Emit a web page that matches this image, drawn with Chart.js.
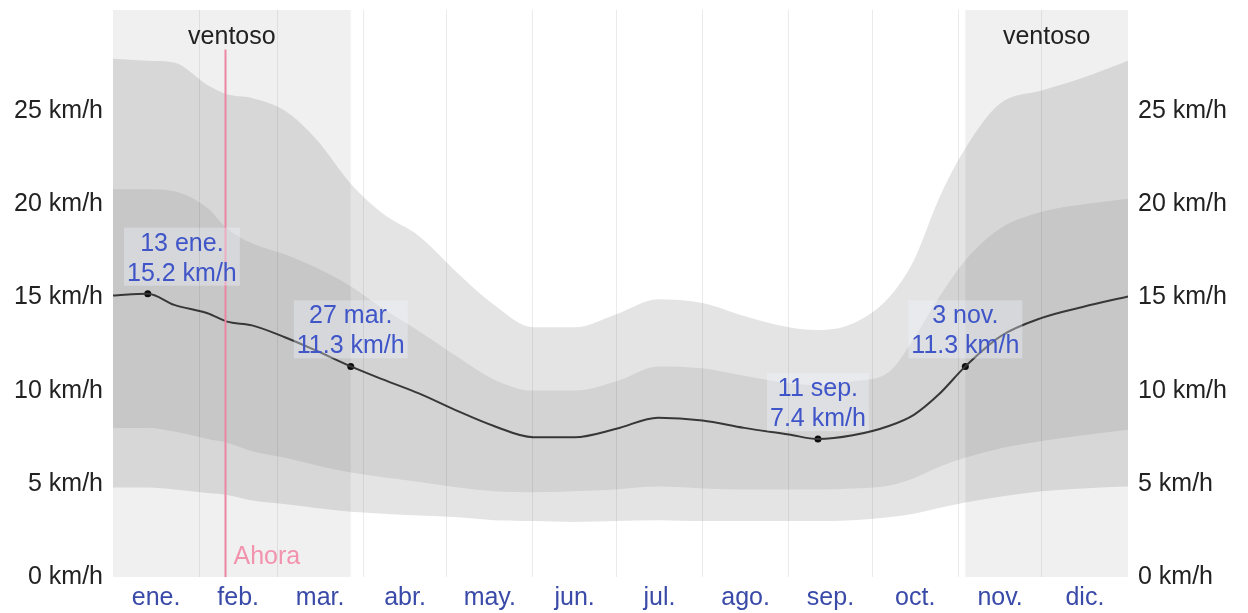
<!DOCTYPE html>
<html>
<head>
<meta charset="utf-8">
<script src="https://cdn.jsdelivr.net/npm/chart.js@4/dist/chart.umd.min.js"></script>
<style>
  html, body { margin: 0; padding: 0; background: #fff; }
  canvas { display: block; }
</style>
</head>
<body>
<canvas id="windChart" width="1248" height="613"></canvas>
<script>
// day of year (0 = 1 ene., 365 = 31 dic.)
const days = [0, 12.5, 22, 34, 41, 50, 62, 73, 85.5, 97, 110, 124, 137, 151, 166, 181, 196, 212, 227, 243, 253.5, 266, 279, 288, 297, 306.5, 319, 334, 349, 365];

// average wind speed, km/h
const meanSpeed = [15.1, 15.2, 14.6, 14.15, 13.7, 13.5, 12.85, 12.15, 11.3, 10.6, 9.85, 8.9, 8.1, 7.5, 7.5, 7.95, 8.55, 8.4, 8.0, 7.65, 7.4, 7.6, 8.1, 8.7, 9.8, 11.3, 12.9, 13.9, 14.5, 15.05];
// percentile bands
const p90 = [27.8, 27.7, 27.6, 26.4, 25.9, 25.7, 25.0, 23.5, 21.1, 19.5, 18.3, 16.3, 14.6, 13.4, 13.4, 14.1, 14.9, 14.7, 14.0, 13.4, 13.25, 13.6, 15.0, 17.0, 20.3, 23.0, 25.4, 26.1, 26.8, 27.7];
const p75 = [20.8, 20.8, 20.7, 19.8, 18.7, 17.9, 17.3, 16.6, 15.6, 14.4, 13.2, 11.8, 10.6, 10.0, 10.0, 10.5, 11.3, 11.2, 10.8, 10.4, 10.3, 10.5, 11.0, 12.8, 15.0, 17.0, 18.7, 19.6, 20.0, 20.3];
const p25 = [8.0, 8.0, 7.8, 7.4, 7.2, 6.75, 6.4, 6.0, 5.6, 5.35, 5.1, 4.8, 4.6, 4.55, 4.6, 4.7, 4.85, 4.75, 4.7, 4.7, 4.7, 4.75, 4.9, 5.3, 5.9, 6.4, 6.9, 7.3, 7.6, 7.9];
const p10 = [4.8, 4.8, 4.7, 4.5, 4.4, 4.1, 3.9, 3.7, 3.5, 3.4, 3.3, 3.2, 3.05, 3.0, 2.95, 3.0, 3.05, 3.0, 3.0, 3.0, 3.0, 3.05, 3.2, 3.4, 3.7, 4.0, 4.3, 4.6, 4.75, 4.85];

// highlighted days
const hiDays = [12.5, 85.5, 253.5, 306.5];
const hiValues = [15.2, 11.3, 7.4, 11.3];
const hiDates = ['13 ene.', '27 mar.', '11 sep.', '3 nov.'];

// windy season ranges (days)
const windyRanges = [[0, 85.5], [306.5, 365]];
const windyLabel = 'ventoso';
const nowDay = 40.3;
const nowLabel = 'Ahora';

const monthNames = ['ene.', 'feb.', 'mar.', 'abr.', 'may.', 'jun.', 'jul.', 'ago.', 'sep.', 'oct.', 'nov.', 'dic.'];
const monthStarts = [0, 31, 59, 90, 120, 151, 181, 212, 243, 273, 304, 334, 365];
const yTicks = [0, 5, 10, 15, 20, 25];
const yMax = 30.42;

const FONT = '"Liberation Sans", Arial, sans-serif';
const monthMids = monthNames.map((m, i) => (monthStarts[i] + monthStarts[i + 1]) / 2);

const pts = arr => days.map((d, i) => ({ x: d, y: arr[i] }));

const bgPlugin = {
    id: 'windyBg',
    beforeDatasetsDraw(chart) {
        const { ctx, chartArea: a, scales } = chart;
        ctx.save();
        ctx.fillStyle = 'rgba(0,0,0,0.06)';
        windyRanges.forEach(r => {
            const x0 = scales.x.getPixelForValue(r[0]);
            const x1 = scales.x.getPixelForValue(r[1]);
            ctx.fillRect(x0, a.top, x1 - x0, a.bottom - a.top);
        });
        ctx.restore();
    },
    afterDatasetsDraw(chart) {
        const { ctx, chartArea: a, scales } = chart;
        const x = scales.x, y = scales.y;
        ctx.save();
        // windy labels
        ctx.font = '25px ' + FONT;
        ctx.fillStyle = '#222';
        ctx.textAlign = 'center';
        ctx.textBaseline = 'alphabetic';
        windyRanges.forEach(r => {
            const cx = (x.getPixelForValue(r[0]) + x.getPixelForValue(r[1])) / 2;
            ctx.fillText(windyLabel, cx, a.top + 34);
        });
        // now line
        const nx = Math.round(x.getPixelForValue(nowDay)) + 0.5;
        ctx.strokeStyle = '#ec86a2';
        ctx.lineWidth = 2;
        ctx.beginPath();
        ctx.moveTo(nx, y.getPixelForValue(28.3));
        ctx.lineTo(nx, a.bottom);
        ctx.stroke();
        ctx.fillStyle = '#f293ae';
        ctx.textAlign = 'left';
        ctx.fillText(nowLabel, nx + 8, a.bottom - 13);
        // highlight labels
        hiDays.forEach((d, i) => {
            const px = x.getPixelForValue(d);
            const py = y.getPixelForValue(hiValues[i]);
            const l1 = hiDates[i];
            const l2 = hiValues[i].toFixed(1) + ' km/h';
            const w = Math.max(ctx.measureText(l1).width, ctx.measureText(l2).width);
            const cx = Math.min(Math.max(px, a.left + 14 + w / 2), a.right - 14 - w / 2);
            ctx.fillStyle = 'rgba(238,243,255,0.35)';
            ctx.fillRect(cx - w / 2 - 3, py - 66, w + 6, 58);
            ctx.fillStyle = '#3f55c8';
            ctx.textAlign = 'center';
            ctx.fillText(l1, cx, py - 43);
            ctx.fillText(l2, cx, py - 13);
        });
        ctx.restore();
    }
};

const yTickCfg = {
    font: { size: 25, family: FONT },
    color: '#222',
    padding: 10,
    callback: v => v + ' km/h'
};

const yFit = w => s => { s.width = w; s.paddingTop = 0; s.paddingBottom = 0; };

new Chart(document.getElementById('windChart'), {
    type: 'line',
    data: {
        datasets: [
            { data: pts(p10), borderWidth: 0, pointRadius: 0, fill: false },
            { data: pts(p90), borderWidth: 0, pointRadius: 0, fill: 0, backgroundColor: 'rgba(0,0,0,0.105)' },
            { data: pts(p25), borderWidth: 0, pointRadius: 0, fill: false },
            { data: pts(p75), borderWidth: 0, pointRadius: 0, fill: 2, backgroundColor: 'rgba(0,0,0,0.08)' },
            { data: pts(meanSpeed), borderColor: '#444', borderWidth: 2, pointRadius: 0, fill: false },
            {
                type: 'scatter',
                data: hiDays.map((d, i) => ({ x: d, y: hiValues[i] })),
                pointRadius: 3.5, pointBackgroundColor: '#111', pointBorderWidth: 0
            }
        ]
    },
    options: {
        responsive: false,
        animation: false,
        devicePixelRatio: 1,
        layout: { padding: { top: 10 } },
        elements: { line: { tension: 0.4, cubicInterpolationMode: 'monotone' } },
        plugins: { legend: { display: false }, tooltip: { enabled: false } },
        scales: {
            x: {
                type: 'linear', min: 0, max: 365,
                afterBuildTicks: s => { s.ticks = monthMids.map(v => ({ value: v })); },
                afterFit: s => { s.height = 36; s.paddingLeft = 0; s.paddingRight = 0; },
                ticks: {
                    font: { size: 25, family: FONT },
                    color: '#3a4aa8',
                    padding: 6,
                    maxRotation: 0,
                    autoSkip: false,
                    callback: (v, i) => monthNames[i]
                },
                grid: { display: false, drawTicks: false },
                border: { display: false }
            },
            xg: {
                type: 'linear', position: 'bottom', min: 0, max: 365,
                afterBuildTicks: s => { s.ticks = monthStarts.slice(1, -1).map(v => ({ value: v })); },
                afterFit: s => { s.height = 0; s.paddingLeft = 0; s.paddingRight = 0; },
                ticks: { display: false },
                grid: { color: 'rgba(0,0,0,0.08)', drawTicks: false, z: 1 },
                border: { display: false }
            },
            y: {
                position: 'left', min: 0, max: yMax,
                afterBuildTicks: s => { s.ticks = yTicks.map(v => ({ value: v })); },
                afterFit: yFit(113),
                ticks: yTickCfg,
                grid: { display: false, drawTicks: false },
                border: { display: false }
            },
            y2: {
                position: 'right', min: 0, max: yMax,
                afterBuildTicks: s => { s.ticks = yTicks.map(v => ({ value: v })); },
                afterFit: yFit(120),
                ticks: yTickCfg,
                grid: { display: false, drawTicks: false },
                border: { display: false }
            }
        }
    },
    plugins: [bgPlugin]
});
</script>
</body>
</html>
